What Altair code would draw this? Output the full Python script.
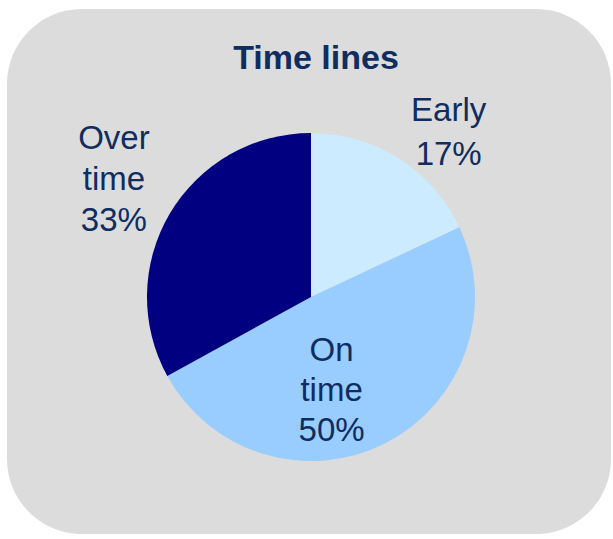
import altair as alt
import pandas as pd

# ---- data ----
categories = ["Early", "On time", "Over time"]
values = [18, 49, 33]            # drawn slice sizes (angles measured on the picture)
pct_labels = ["17%", "50%", "33%"]
slice_order = [0, 1, 2]
colors = ["#CCEBFF", "#99CCFF", "#000080"]
title_text = "Time lines"

TEXT_COLOR = "#0F2D5F"
FONT = "Liberation Sans"

df = pd.DataFrame({
    "category": categories,
    "value": values,
    "pct": pct_labels,
    "order": slice_order,
})
df["label"] = [c.replace(" ", "\n") + "\n" + p for c, p in zip(categories, pct_labels)]

CX, CY = 304, 288  # pie centre inside the plot area

base = alt.Chart(df)

pie = base.mark_arc(radius=164, stroke=None).encode(
    theta=alt.Theta("value:Q", stack=True),
    color=alt.Color("category:N", scale=alt.Scale(domain=categories, range=colors), legend=None),
    order=alt.Order("order:Q"),
    x=alt.value(CX),
    y=alt.value(CY),
)

mid = (
    base.transform_window(cum="sum(value)", frame=[None, 0], sort=[alt.SortField("order")])
    .transform_joinaggregate(total="sum(value)")
    .transform_calculate(mid="(datum.cum - datum.value / 2) / datum.total * 2 * PI")
)


def label_layer(cat, radius, dx, dy, line_height):
    return mid.transform_filter(alt.datum.category == cat).mark_text(
        radius=radius, dx=dx, dy=dy, fontSize=33, font=FONT, color=TEXT_COLOR,
        lineBreak="\n", lineHeight=line_height, align="center", baseline="middle",
    ).encode(
        theta=alt.Theta("mid:Q", scale=None),
        text="label:N",
        x=alt.value(CX),
        y=alt.value(CY),
    )


lab_early = label_layer("Early", 214, 23, -5, 44)
lab_on = label_layer("On time", 96, -23, -32, 40)
lab_over = label_layer("Over time", 229, 0, -41, 41)

title = alt.Chart(pd.DataFrame({"t": [title_text]})).mark_text(
    fontSize=34, fontWeight="bold", font=FONT, color=TEXT_COLOR,
    align="center", baseline="alphabetic",
).encode(text="t:N", x=alt.value(309), y=alt.value(59.5))

chart = alt.layer(pie, lab_early, lab_on, lab_over, title).properties(
    width=604, height=525,
    padding={"left": 7, "top": 9, "right": 2, "bottom": 5},
    autosize=alt.AutoSizeParams(type="none"),
    background="white",
).configure_view(fill="#DCDCDC", stroke=None, cornerRadius=75)

chart.save("out.html", embed_options={"renderer": "svg", "actions": False})
